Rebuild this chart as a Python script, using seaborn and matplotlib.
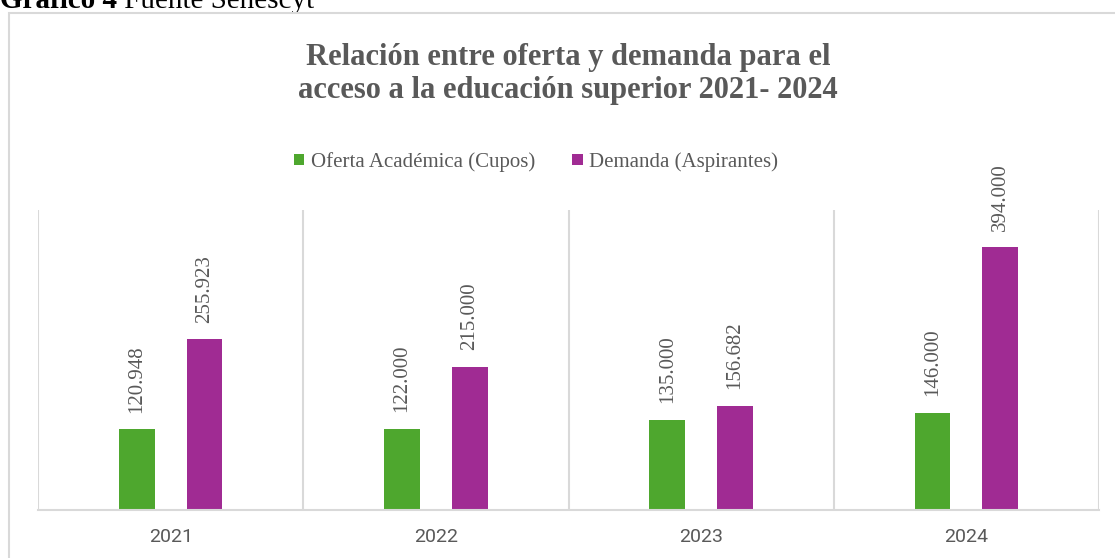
import matplotlib.pyplot as plt
from matplotlib.patches import Patch, Rectangle
import pandas as pd
import seaborn as sns

# data
years = ["2021", "2022", "2023", "2024"]
oferta = [120948, 122000, 135000, 146000]
demanda = [255923, 215000, 156682, 394000]
series = ["Oferta Académica (Cupos)", "Demanda (Aspirantes)"]
colors = ["#4EA72E", "#A02B93"]

title = "Relación entre oferta y demanda para el\nacceso a la educación superior 2021- 2024"
GRAY = "#595959"
GRID = "#D9D9D9"
W, H = 1115, 558


def miles(v):
    # Spanish thousands separator
    return f"{v:,.0f}".replace(",", ".")


df = pd.DataFrame({
    "year": years * 2,
    "value": oferta + demanda,
    "serie": [series[0]] * len(years) + [series[1]] * len(years),
})

sns.set_theme(style="white")
plt.rcParams["font.family"] = ["Liberation Serif", "DejaVu Serif"]

fig = plt.figure(figsize=(W / 100, H / 100), dpi=100)
ax = fig.add_axes([38 / W, 48 / H, (1099 - 38) / W, 300 / H])

sns.barplot(data=df, x="year", y="value", hue="serie", palette=colors, saturation=1,
            width=0.51, gap=0.47, linewidth=0, errorbar=None, legend=False, ax=ax)

ax.set_ylim(0, 450000)
ax.set_xlim(-0.5, len(years) - 0.5)
ax.set_yticks([])
ax.set_xlabel("")
ax.set_ylabel("")
for side in ["top", "left", "right"]:
    ax.spines[side].set_visible(False)
ax.spines["bottom"].set_color(GRID)
ax.spines["bottom"].set_linewidth(1.5)

# category separators
ax.set_xticks([i - 0.5 for i in range(len(years) + 1)], minor=True)
ax.grid(which="minor", axis="x", color=GRID, linewidth=1.5)
ax.tick_params(which="both", length=0)
ax.tick_params(axis="x", pad=13)
for lbl in ax.get_xticklabels():
    lbl.set_fontfamily("Roboto")
    lbl.set_fontsize(14)
    lbl.set_color(GRAY)

for cont, vals in zip(ax.containers, [oferta, demanda]):
    ax.bar_label(cont, labels=[miles(v) for v in vals], rotation=90,
                 padding=12, fontsize=15, color=GRAY)

handles = [Patch(facecolor=c, edgecolor="none", label=s) for c, s in zip(colors, series)]
ax.legend(handles=handles, loc="center", bbox_to_anchor=(536 / W, 1 - 162 / H),
          bbox_transform=fig.transFigure, ncol=2, frameon=False, fontsize=15,
          handlelength=0.5, handleheight=0.5, handletextpad=0.3,
          columnspacing=1.8, labelcolor=GRAY)

fig.text(568 / W, 1 - 43 / H, title, ha="center", va="top", fontsize=22,
         weight="bold", color=GRAY, linespacing=1.17)

# chart frame and caption above it
fig.patches.append(Rectangle((9 / W, -0.1), 1.2, 1.1 - 13 / H, transform=fig.transFigure,
                             fill=False, edgecolor=GRID, linewidth=1.5))
t1 = fig.text(0, 1 - 8 / H, "Gráfico 4", weight="bold", fontsize=21,
              va="baseline", ha="left", color="black")
ax.annotate(" Fuente Senescyt", xy=(1, 0), xycoords=t1, va="bottom", ha="left",
            fontsize=21, color="black")

fig.savefig("out.png", dpi=100)
